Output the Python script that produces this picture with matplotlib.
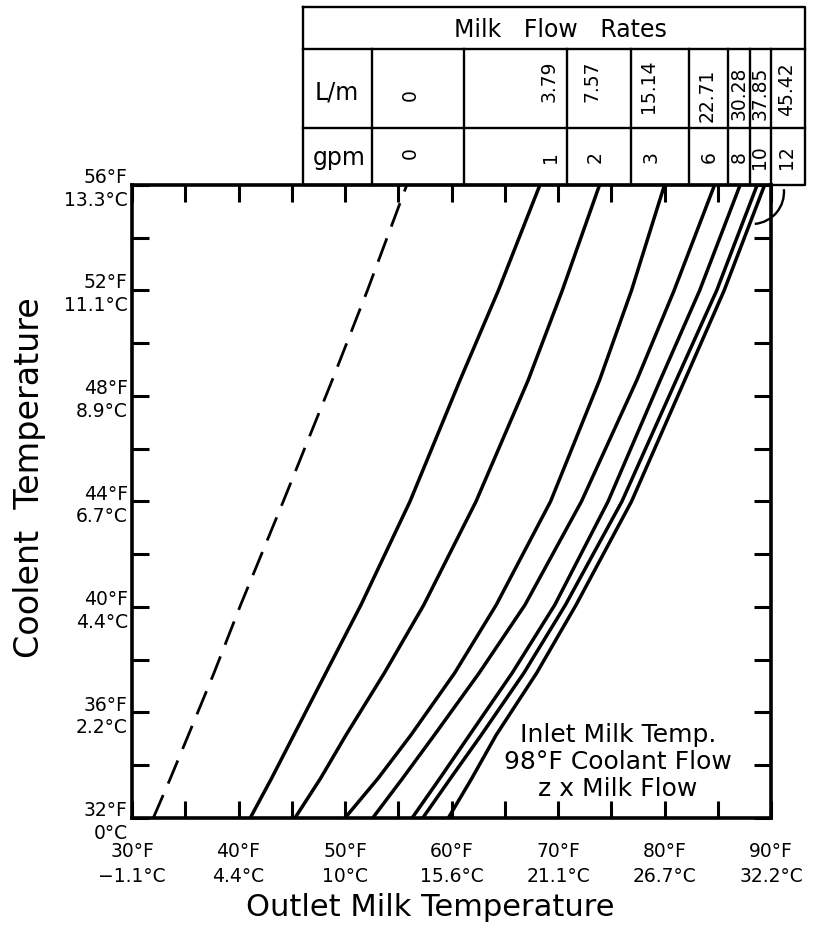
import matplotlib
matplotlib.use('Agg')
import matplotlib.pyplot as plt
from matplotlib.patches import Arc

# ---------------- data ----------------
# coolant temperature levels (°F) at which the outlet temperatures were read
coolant_F = [32.0, 33.5, 35.15, 37.5, 40.08, 44.0, 48.6, 52.0, 56.0]
outlet_0gpm = [32.0, 33.6, 35.3, 37.7, 40.2, 44.2, 48.8, 52.1, 55.8]
outlet_1gpm = [41.1, 43.1, 45.2, 48.2, 51.5, 56.1, 60.8, 64.4, 68.3]
outlet_2gpm = [45.3, 47.7, 50.1, 53.7, 57.4, 62.3, 67.2, 70.4, 73.9]
outlet_3gpm = [50.0, 53.1, 56.2, 60.3, 64.2, 69.3, 73.9, 76.9, 80.0]
outlet_6gpm = [52.6, 55.4, 58.4, 62.6, 66.9, 72.2, 77.4, 80.9, 84.7]
outlet_8gpm = [56.3, 58.9, 61.7, 65.7, 69.7, 74.7, 79.6, 83.3, 87.1]
outlet_10gpm = [57.3, 59.9, 62.8, 66.8, 70.7, 76.0, 81.1, 84.9, 88.7]
outlet_12gpm = [59.7, 61.9, 64.2, 68.0, 71.7, 76.9, 81.9, 85.6, 89.4]

flow_gpm = ['0', '1', '2', '3', '6', '8', '10', '12']
flow_lpm = ['0', '3.79', '7.57', '15.14', '22.71', '30.28', '37.85', '45.42']

x_tick_F = [30, 40, 50, 60, 70, 80, 90]
x_tick_C = ['−1.1', '4.4', '10', '15.6', '21.1', '26.7', '32.2']
y_tick_F = [32, 36, 40, 44, 48, 52, 56]
y_tick_C = ['0', '2.2', '4.4', '6.7', '8.9', '11.1', '13.3']

# ---------------- layout ----------------
W, H = 824, 930
plt.rcParams['font.family'] = ['DejaVu Sans']
fig = plt.figure(figsize=(W / 100, H / 100), dpi=100)

L, R, T, B = 132, 771, 185, 818
ax = fig.add_axes([L / W, (H - B) / H, (R - L) / W, (B - T) / H])
ax.set_xlim(30, 90)
ax.set_ylim(32, 56)

curves = [outlet_0gpm, outlet_1gpm, outlet_2gpm, outlet_3gpm,
          outlet_6gpm, outlet_8gpm, outlet_10gpm, outlet_12gpm]
for i, xs in enumerate(curves):
    if i == 0:
        ax.plot(xs, coolant_F, color='black', lw=2.0, linestyle=(0, (9, 4.5)),
                solid_capstyle='butt')
    else:
        ax.plot(xs, coolant_F, color='black', lw=2.5, solid_joinstyle='round')

# ticks
xt = list(range(30, 91, 5))
ax.set_xticks(xt)
ax.set_xticklabels([f'{f}°F\n{x_tick_C[x_tick_F.index(f)]}°C' if f in x_tick_F else ''
                    for f in xt])
yt = list(range(32, 57, 2))
ax.set_yticks(yt)
ax.set_yticklabels([f'{f}°F\n{y_tick_C[y_tick_F.index(f)]}°C' if f in y_tick_F else ''
                    for f in yt])
ax.tick_params(which='both', direction='in', top=True, right=True,
               length=12, width=2.2, labelsize=13.5)
ax.tick_params(axis='x', pad=17)
ax.tick_params(axis='y', pad=3)
for lab in ax.get_yticklabels():
    lab.set_multialignment('right')
    lab.set_linespacing(1.25)
for lab in ax.get_xticklabels():
    lab.set_linespacing(1.4)
for s in ax.spines.values():
    s.set_linewidth(2.6)

# ---------------- overlay in pixel coordinates ----------------
ov = fig.add_axes([0, 0, 1, 1])
ov.set_xlim(0, W)
ov.set_ylim(H, 0)
ov.axis('off')

# axis titles
ov.text(30, 478, 'Coolent  Temperature', rotation=90, ha='center', va='center',
        fontsize=24)
ov.text(430, 907, 'Outlet Milk Temperature', ha='center', va='center', fontsize=22)

# annotation
ov.text(618, 762, 'Inlet Milk Temp.\n98°F Coolant Flow\nz x Milk Flow',
        ha='center', va='center', fontsize=18, linespacing=1.15)

# table
tl, tr, ttop, r1, r2 = 303, 805, 7, 49, 128
col_edges = [372, 464, 567, 631, 689, 728, 750, 771]
tkw = dict(color='black', lw=1.7, solid_capstyle='projecting')
ov.plot([tl, tr, tr, tl, tl], [ttop, ttop, T, T, ttop], **tkw)
ov.plot([tl, tr], [r1, r1], **tkw)
ov.plot([tl, tr], [r2, r2], **tkw)
for cx in col_edges:
    ov.plot([cx, cx], [r1, T], **tkw)

ov.text(560, 30, 'Milk   Flow   Rates', ha='center', va='center', fontsize=17)
ov.text(337, 93, 'L/m', ha='center', va='center', fontsize=17)
ov.text(339, 158, 'gpm', ha='center', va='center', fontsize=17)

lpm_pos = [(410, 95), (549, 81), (592, 81), (649, 86), (707, 95), (739, 93),
           (760, 93), (787, 89)]
gpm_pos = [(410, 153), (551, 157), (595, 157), (651, 157), (709, 157),
           (739, 157), (760, 157), (787, 157)]
for lab, (px, py) in zip(flow_lpm, lpm_pos):
    ov.text(px, py, lab, rotation=90, ha='center', va='center', fontsize=13.5)
for lab, (px, py) in zip(flow_gpm, gpm_pos):
    ov.text(px, py, lab, rotation=90, ha='center', va='center', fontsize=13.5)

# small bracket arc at the top right
ov.add_patch(Arc((752, 192), 64, 64, theta1=-5, theta2=85, color='black', lw=1.7))

fig.savefig('out.png', dpi=100)
